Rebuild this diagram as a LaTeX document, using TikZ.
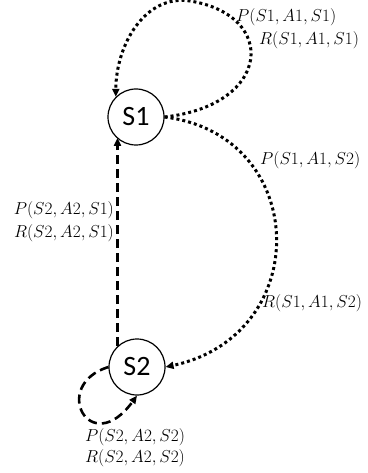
\documentclass[tikz,border=0pt]{standalone}
\usepackage{fontspec}
\newfontfamily\nodefont{Carlito}
\usetikzlibrary{arrows.meta}
\begin{document}
\begin{tikzpicture}[x=1pt,y=-1pt,
  state/.style={circle,draw,line width=1.2pt,minimum size=56pt,inner sep=0pt,font=\nodefont\fontsize{28}{30}\selectfont},
  lbl/.style={inner sep=0pt,font=\fontsize{18}{20}\selectfont},
  dotline/.style={line width=3pt,dash pattern=on 3pt off 3pt,-{Triangle[length=8pt,width=7pt]}},
  dashline/.style={line width=2.6pt,dash pattern=on 9pt off 5pt,-{Triangle[length=8pt,width=7pt]}}]
\useasboundingbox (0,0) rectangle (367,473);
\node[state] (S1) at (136,117) {S1};
\node[state] (S2) at (137,367) {S2};
% S1 self loop
\draw[dotline] (S1.east) .. controls (272,105) and (278,15) .. (190,1)
  .. controls (145,-6) and (116,45) .. (S1.135);
% S1 -> S2
\draw[dotline] (S1.east) .. controls (310,135) and (315,335) .. (S2.east);
% S2 -> S1
\draw[dashline] (S2.133) -- (S2.133 |- S1.227);
% S2 self loop
\draw[dashline] (S2.west) .. controls (50,385) and (90,460) .. (S2.south);
% labels
\node[lbl,anchor=west] (l1) at (236,17) {$P(S1,A1,S1)$};
\node[lbl,anchor=west] (l2) at (259,40) {$R(S1,A1,S1)$};
\node[lbl,anchor=west] (l3) at (260,160) {$P(S1,A1,S2)$};
\node[lbl,anchor=west] (l4) at (262,303) {$R(S1,A1,S2)$};
\node[lbl,anchor=east] (l5) at (114,210) {$P(S2,A2,S1)$};
\node[lbl,anchor=east] (l6) at (114,233) {$R(S2,A2,S1)$};
\node[lbl] (l7) at (135,437) {$P(S2,A2,S2)$};
\node[lbl] (l8) at (135,458) {$R(S2,A2,S2)$};
\end{tikzpicture}
\end{document}
